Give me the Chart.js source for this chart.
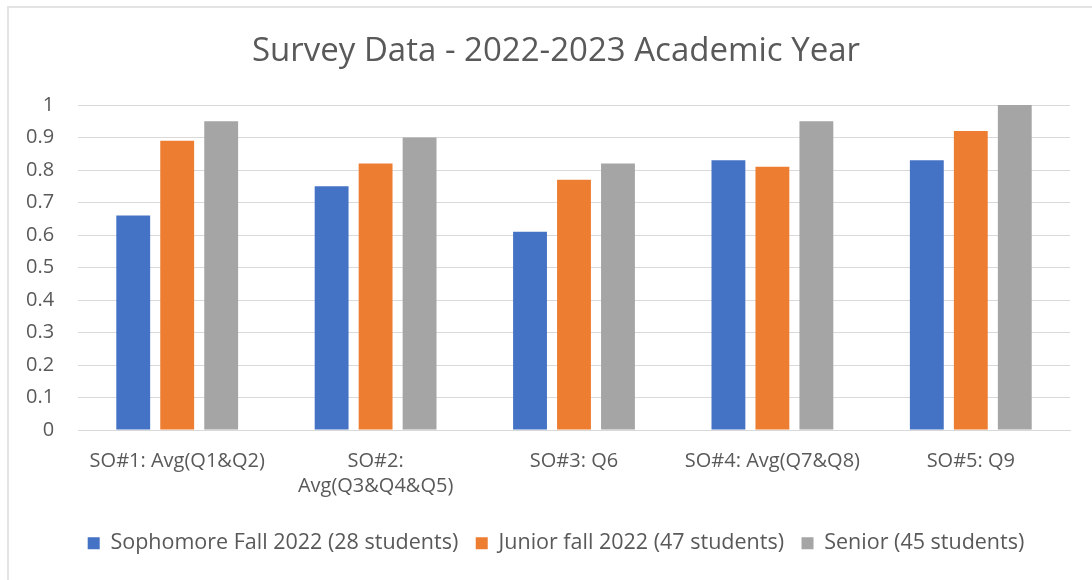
<!DOCTYPE html>
<html>
<head>
<meta charset="utf-8">
<title>Survey Data - 2022-2023 Academic Year</title>
<script src="https://cdn.jsdelivr.net/npm/chart.js@4/dist/chart.umd.min.js"></script>
<style>
  html, body { margin: 0; padding: 0; background: #fff; overflow: hidden; }
  #frame {
    position: absolute; left: 7px; top: 6px;
    width: 1200px; height: 700px;
    border-left: 2px solid #e3e3e3; border-top: 2px solid #e3e3e3;
  }
  #chart { position: absolute; left: 0; top: 0; }
</style>
</head>
<body>
<div id="frame"></div>
<canvas id="chart" width="1092" height="580"></canvas>
<script>
/* ---------- data ---------- */
const categories = [
  'SO#1: Avg(Q1&Q2)',
  ['SO#2:', 'Avg(Q3&Q4&Q5)'],
  'SO#3: Q6',
  'SO#4: Avg(Q7&Q8)',
  'SO#5: Q9',
];
const sophomore = [0.66, 0.75, 0.61, 0.83, 0.83];
const junior    = [0.89, 0.82, 0.77, 0.81, 0.92];
const senior    = [0.95, 0.90, 0.82, 0.95, 1.00];
const yTicks    = [0, 0.1, 0.2, 0.3, 0.4, 0.5, 0.6, 0.7, 0.8, 0.9, 1];

const seriesNames = [
  'Sophomore Fall 2022 (28 students)',
  'Junior fall 2022 (47 students)',
  'Senior (45 students)',
];

/* ---------- style ---------- */
const FONT  = "'Open Sans', 'Noto Sans', sans-serif";
const TEXT  = '#595959';
const GRID  = '#d9d9d9';

function bar(label, data, color) {
  return {
    label,
    data,
    backgroundColor:    color,
    borderWidth:        0,
    barPercentage:      0.77,
    categoryPercentage: 0.665,
  };
}

new Chart(document.getElementById('chart').getContext('2d'), {
  type: 'bar',
  data: {
    labels: categories,
    datasets: [
      bar(seriesNames[0], sophomore, '#4472c4'),
      bar(seriesNames[1], junior,    '#ed7d31'),
      bar(seriesNames[2], senior,    '#a5a5a5'),
    ],
  },
  options: {
    responsive: false,
    animation:  false,
    layout: { padding: { left: 42, right: 22, top: 32, bottom: 16 } },
    plugins: {
      title: {
        display: true,
        text:    'Survey Data - 2022-2023 Academic Year',
        color:   TEXT,
        font:    { family: FONT, size: 33, weight: 'normal', lineHeight: 1.2 },
        padding: { top: 0, bottom: 33.4 },
      },
      legend: {
        position: 'bottom',
        labels: {
          color:     TEXT,
          font:      { family: FONT, size: 21.5 },
          boxWidth:  12,
          boxHeight: 12,
          padding:   17.5,
        },
      },
      tooltip: { enabled: false },
    },
    scales: {
      x: {
        afterFit: scale => { scale.height = 85; },
        grid:   { display: false },
        border: { color: GRID, width: 1 },
        ticks: {
          color: TEXT,
          font:  { family: FONT, size: 20, lineHeight: 1.25 },
          padding: 11,
          maxRotation: 0,
          autoSkip: false,
        },
      },
      y: {
        min: 0,
        max: 1,
        afterFit: scale => { scale.width = 36; },
        afterBuildTicks: scale => { scale.ticks = yTicks.map(v => ({ value: v })); },
        border: { display: false },
        grid:   { color: GRID, lineWidth: 1, drawTicks: false },
        ticks: {
          color:      TEXT,
          font:       { family: FONT, size: 20 },
          mirror:     true,
          crossAlign: 'far',
          padding:    -52,
          callback: v => String(Math.round(v * 10) / 10),
        },
      },
    },
  },
});
</script>
</body>
</html>
